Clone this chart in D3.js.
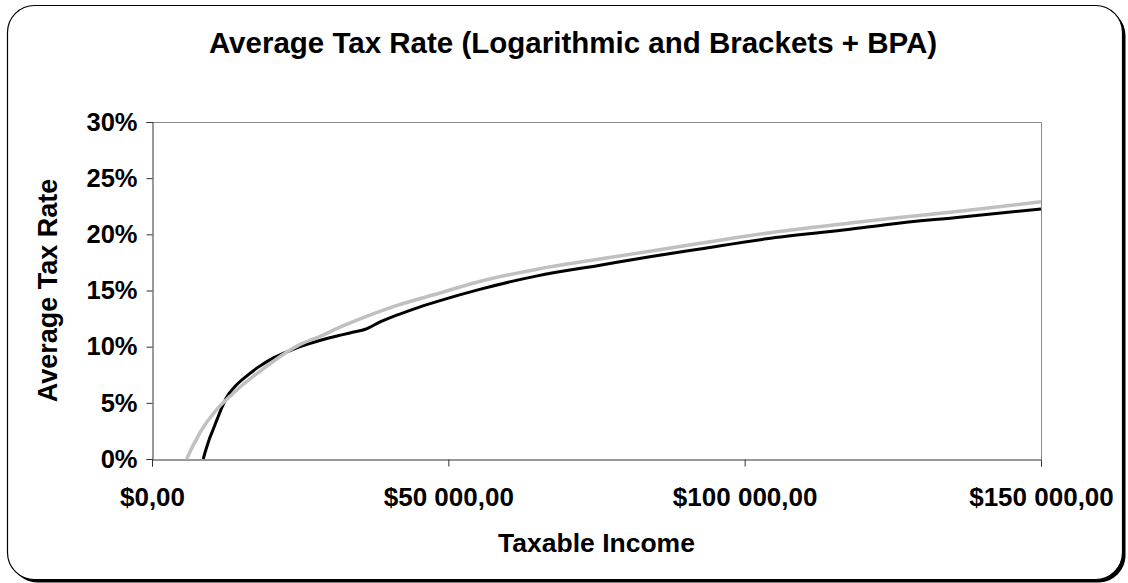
<!DOCTYPE html>
<html>
<head>
<meta charset="utf-8">
<script src="https://cdn.jsdelivr.net/npm/d3@7"></script>
<style>
  html, body { margin: 0; padding: 0; background: #fff; }
  svg { display: block; }
  text { font-family: "Liberation Sans", Arial, sans-serif; font-weight: bold; fill: #000; }
</style>
</head>
<body>
<svg id="chart" width="1128" height="583"></svg>
<script>
// Average tax rate by taxable income, two models
const chartTitle = "Average Tax Rate (Logarithmic and Brackets + BPA)";
const xAxisTitle = "Taxable Income";
const yAxisTitle = "Average Tax Rate";

// Logarithmic model (grey line): income ($) and average rate (%)
const logIncome = [5850, 6300, 6800, 7500, 8100, 9000, 10000, 11500, 13200, 15500, 17700, 20500, 23300, 25000, 28300, 32000, 36200, 41500, 47400, 55300, 65000, 75600, 84000, 92500, 103600, 117800, 124500, 137000, 150000];
const logRate   = [0,    0.52, 1.06, 1.75, 2.35, 3.1,  3.8,   4.75,  5.6,   6.7,   7.6,   8.7,   9.7,   10.2,  10.9,  11.8,  12.7,  13.7,  14.6,  15.8,  16.9,  17.8,  18.5,  19.2,  20.1,   21.0,   21.4,   22.1,   22.9];

// Tax brackets with basic personal amount (black line)
const bracketIncome = [8660, 8800, 9200, 9800, 10300, 11000, 11800, 12600, 14000, 16000, 18000, 20500, 23300, 25000, 28300, 32000, 34000, 36000, 38500, 41800, 45000, 48600, 55300, 65000, 75600, 84000, 92500, 103700, 117800, 124500, 135800, 150000];
const bracketRate   = [0,    0.3,  1.0,  1.95, 2.6,   3.55,  4.6,   5.5,   6.45,  7.4,   8.2,   9.0,   9.65,  10.0,  10.55, 11.05, 11.3,  11.55, 12.2,  12.9,  13.5,  14.1,  15.1,  16.3,  17.25, 18.0,  18.7,  19.6,   20.45,  20.9,   21.5,   22.25];

// Axis ticks
const xTickValues = [0, 50000, 100000, 150000];
const xTickLabels = ["$0,00", "$50 000,00", "$100 000,00", "$150 000,00"];
const yTickValues = [0, 5, 10, 15, 20, 25, 30];
const yTickLabels = ["0%", "5%", "10%", "15%", "20%", "25%", "30%"];

const svg = d3.select("#chart");

// Chart area: rounded frame with a drop shadow
const frame = { x: 7.5, y: 5.5, w: 1115, h: 574, r: 27 };
svg.append("rect")
  .attr("x", frame.x + 3).attr("y", frame.y + 3)
  .attr("width", frame.w).attr("height", frame.h)
  .attr("rx", frame.r).attr("ry", frame.r)
  .attr("fill", "#000");
svg.append("rect")
  .attr("x", frame.x).attr("y", frame.y)
  .attr("width", frame.w).attr("height", frame.h)
  .attr("rx", frame.r).attr("ry", frame.r)
  .attr("fill", "#fff").attr("stroke", "#000").attr("stroke-width", 1.2);

// Plot area
const plot = { left: 152, right: 1041, top: 122, bottom: 459 };
const x = d3.scaleLinear().domain([0, 150000]).range([plot.left, plot.right]);
const y = d3.scaleLinear().domain([0, 30]).range([plot.bottom, plot.top]);

// Plot area border (top and right edges)
svg.append("path")
  .attr("d", `M${plot.left},${plot.top + 0.5}H${plot.right + 0.5}V${plot.bottom}`)
  .attr("fill", "none").attr("stroke", "#8c8c8c").attr("stroke-width", 1);

// Y axis
const yAxis = svg.append("g")
  .attr("transform", `translate(${plot.left + 0.5},0)`)
  .call(d3.axisLeft(y).tickValues(yTickValues)
    .tickFormat((d, i) => yTickLabels[i]).tickSize(6).tickPadding(9));
yAxis.select(".domain").attr("stroke", "#333");
yAxis.selectAll(".tick line").attr("stroke", "#333");
yAxis.selectAll(".tick text")
  .attr("font-size", 25.5).attr("font-weight", "bold")
  .attr("font-family", "Liberation Sans, Arial, sans-serif").attr("fill", "#000");

// X axis
const xAxis = svg.append("g")
  .attr("transform", `translate(0,${plot.bottom + 0.5})`)
  .call(d3.axisBottom(x).tickValues(xTickValues)
    .tickFormat((d, i) => xTickLabels[i]).tickSize(7).tickPadding(21));
xAxis.select(".domain").attr("stroke", "#333");
xAxis.selectAll(".tick line").attr("stroke", "#333");
xAxis.selectAll(".tick text")
  .attr("font-size", 26).attr("font-weight", "bold")
  .attr("font-family", "Liberation Sans, Arial, sans-serif").attr("fill", "#000");

// Lines
const line = d3.line()
  .x(d => x(d[0]))
  .y(d => y(d[1]))
  .curve(d3.curveMonotoneX);

const bracketData = bracketIncome.map((v, i) => [v, bracketRate[i]]);
const logData = logIncome.map((v, i) => [v, logRate[i]]);

svg.append("path")
  .datum(bracketData)
  .attr("d", line)
  .attr("fill", "none").attr("stroke", "#000").attr("stroke-width", 3)
  .attr("stroke-linejoin", "round");

svg.append("path")
  .datum(logData)
  .attr("d", line)
  .attr("fill", "none").attr("stroke", "#c0c0c0").attr("stroke-width", 3.5)
  .attr("stroke-linejoin", "round");

// Titles
svg.append("text")
  .attr("x", 573).attr("y", 53)
  .attr("text-anchor", "middle").attr("font-size", 29.5)
  .text(chartTitle);

svg.append("text")
  .attr("x", (plot.left + plot.right) / 2).attr("y", 552)
  .attr("text-anchor", "middle").attr("font-size", 26.5)
  .text(xAxisTitle);

svg.append("text")
  .attr("transform", `translate(57,${(plot.top + plot.bottom) / 2}) rotate(-90)`)
  .attr("text-anchor", "middle").attr("font-size", 27)
  .text(yAxisTitle);
</script>
</body>
</html>
